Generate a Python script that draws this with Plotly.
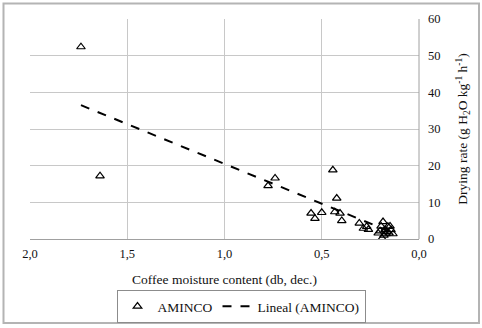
import plotly.graph_objects as go

# Observed data (AMINCO)
moisture = [1.738, 1.64, 0.776, 0.740, 0.443, 0.423, 0.555, 0.535, 0.500, 0.433,
            0.406, 0.397, 0.307, 0.286, 0.269, 0.260, 0.185, 0.195, 0.160, 0.149,
            0.175, 0.200, 0.154, 0.134, 0.190, 0.210, 0.170, 0.144, 0.165, 0.180]
drying_rate = [52.4, 17.2, 14.5, 16.6, 18.8, 11.1, 7.0, 5.6, 7.2, 7.4,
               7.0, 5.0, 4.3, 2.9, 3.4, 2.6, 4.7, 3.5, 3.4, 3.5,
               2.5, 2.2, 1.6, 1.4, 0.2, 1.6, 1.4, 2.5, 2.0, 1.0]

# Linear trendline endpoints
trend_x = [1.738, 0.134]
trend_y = [36.5, 1.7]

x_ticks = [2.0, 1.5, 1.0, 0.5, 0.0]
y_ticks = [0, 10, 20, 30, 40, 50, 60]

FONT = "Liberation Serif"

fig = go.Figure()
fig.add_trace(go.Scatter(
    x=moisture, y=drying_rate, mode="markers", name="AMINCO",
    marker=dict(symbol="triangle-up-open", size=7.5, color="black",
                line=dict(width=1.2, color="black")),
))
fig.add_trace(go.Scatter(
    x=trend_x, y=trend_y, mode="lines", name="Lineal (AMINCO)",
    line=dict(color="black", width=2, dash="dash"),
))

W, H = 482, 328
L, R, T, B = 30, 63, 19, 89
pw, ph = W - L - R, H - T - B

def px(xp):
    return (xp - L) / pw

def py(yp):
    return (H - B - yp) / ph

fig.update_layout(
    width=W, height=H,
    margin=dict(l=L, r=R, t=T, b=B, autoexpand=False),
    paper_bgcolor="white", plot_bgcolor="white",
    separators=",.",
    font=dict(family=FONT, size=12.5, color="#111"),
    showlegend=True,
    legend=dict(orientation="h", x=px(241), xanchor="center", y=py(290), yanchor="top",
                bordercolor="#8c8c8c", borderwidth=1, font=dict(size=13.5, family=FONT),
                tracegroupgap=0, itemwidth=30),
    xaxis=dict(range=[2.0, 0.0], tickvals=x_ticks, tickformat=".1f", automargin=False,
               showgrid=True, gridcolor="#c8c8c8", gridwidth=1,
               zeroline=False, showline=True, linecolor="#a0a0a0",
               ticks="", ticklen=0, ticklabelstandoff=3,
               tickfont=dict(family=FONT, size=12.5),
               title=dict(text="Coffee moisture content (db, dec.)", standoff=14,
                          font=dict(size=13.5, family=FONT))),
    yaxis=dict(range=[0, 60], tickvals=y_ticks, side="right", automargin=False,
               showgrid=True, gridcolor="#c8c8c8", gridwidth=1,
               zeroline=False, showline=False, ticks="", ticklabelstandoff=8,
               tickfont=dict(family=FONT, size=12.5),
               title=dict(text="Drying rate (g H<sub>2</sub>O kg<sup>-1</sup> h<sup>-1</sup>)",
                          standoff=18, font=dict(size=13.5, family=FONT))),
    shapes=[
        dict(type="rect", xref="paper", yref="paper",
             x0=px(3.5), x1=px(479), y0=py(3.5), y1=py(323),
             line=dict(color="#b4b4b4", width=2), fillcolor="rgba(0,0,0,0)", layer="below"),
        dict(type="line", xref="paper", yref="paper", x0=1, x1=1, y0=0, y1=1,
             line=dict(color="#a0a0a0", width=1)),
    ],
)

fig.write_html("out.html", config={"displayModeBar": False},
               post_script="document.body.style.margin='0';")
